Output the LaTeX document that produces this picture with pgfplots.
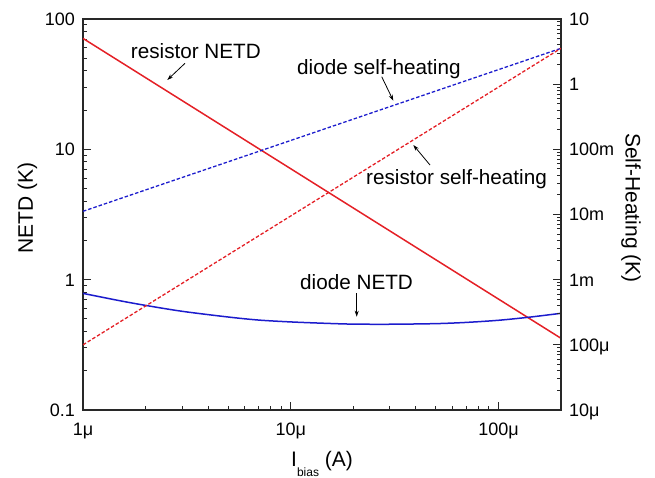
\documentclass[border=0pt]{standalone}
\usepackage{fontspec}
\setmainfont{Liberation Sans}
\usepackage{pgfplots}
\pgfplotsset{compat=1.18}
\usetikzlibrary{arrows.meta}
\definecolor{cred}{RGB}{228,32,38}
\definecolor{cblue}{RGB}{28,28,205}
\definecolor{axisgray}{RGB}{40,40,40}
\begin{document}
\begin{tikzpicture}
\useasboundingbox (0pt,0pt) rectangle (655pt,477pt);
\begin{axis}[
  scale only axis, width=478pt, height=391pt,
  at={(83pt,67pt)}, anchor=south west,
  xmode=log, ymode=log, xmin=1e-6, xmax=2e-4,
  axis line style={axisgray, line width=1.2pt},
  major tick length=8pt, minor tick length=4.5pt,
  tick style={axisgray, line width=1pt},
  tick label style={font=\fontsize{18}{18}\selectfont, inner sep=0pt},
  ymin=0.1, ymax=100,
  xtick pos=bottom, ytick pos=left,
  xtick={1e-6,1e-5,1e-4}, xticklabels={1μ,10μ,100μ},
  minor xtick={2e-6,3e-6,4e-6,5e-6,6e-6,7e-6,8e-6,9e-6,2e-5,3e-5,4e-5,5e-5,6e-5,7e-5,8e-5,9e-5,2e-4},
  ytick={0.1,1,10,100}, yticklabels={0.1,1,10,100},
  minor ytick={0.2,0.3,0.4,0.5,0.6,0.7,0.8,0.9,2,3,4,5,6,7,8,9,20,30,40,50,60,70,80,90},
  xticklabel style={anchor=base, yshift=-25pt},
  yticklabel style={anchor=base east, xshift=-8pt, yshift=-6.4pt},
]
\addplot[cred, line width=1.5pt] coordinates {(1e-6,71) (2e-4,0.355)};
\addplot[cblue, line width=1.5pt, smooth] coordinates {
(1e-6,0.785) (1.5e-6,0.69) (2e-6,0.635) (3e-6,0.572) (5e-6,0.517) (7e-6,0.49)
(1e-5,0.474) (1.5e-5,0.462) (2e-5,0.456) (3e-5,0.455) (5e-5,0.46) (7e-5,0.47)
(1e-4,0.488) (1.4e-4,0.515) (2e-4,0.552)};
\end{axis}
\begin{axis}[
  scale only axis, width=478pt, height=391pt,
  at={(83pt,67pt)}, anchor=south west,
  xmode=log, ymode=log, xmin=1e-6, xmax=2e-4,
  axis line style={axisgray, line width=1.2pt},
  major tick length=8pt, minor tick length=4.5pt,
  tick style={axisgray, line width=1pt},
  tick label style={font=\fontsize{18}{18}\selectfont, inner sep=0pt},
  ymin=1e-5, ymax=10,
  axis x line=none, axis y line*=right,
  ytick={1e-5,1e-4,1e-3,1e-2,1e-1,1,10},
  yticklabels={10μ,100μ,1m,10m,100m,1,10},
  minor ytick={2e-5,3e-5,4e-5,5e-5,6e-5,7e-5,8e-5,9e-5,2e-4,3e-4,4e-4,5e-4,6e-4,7e-4,8e-4,9e-4,2e-3,3e-3,4e-3,5e-3,6e-3,7e-3,8e-3,9e-3,0.02,0.03,0.04,0.05,0.06,0.07,0.08,0.09,0.2,0.3,0.4,0.5,0.6,0.7,0.8,0.9,2,3,4,5,6,7,8,9},
  yticklabel style={anchor=base west, xshift=8pt, yshift=-6.4pt},
]
\addplot[cblue, line width=1.3pt, dash pattern=on 3.5pt off 2pt] coordinates {(1e-6,0.0112) (2e-4,3.55)};
\addplot[cred, line width=1.3pt, dash pattern=on 3.5pt off 2pt] coordinates {(1e-6,1.0e-4) (2e-4,3.55)};
\end{axis}
\begin{scope}[font=\fontsize{20.7}{20.7}\selectfont]
\node[anchor=base west, inner sep=0pt] at (130.7pt,418.7pt) {resistor NETD};
\node[anchor=base west, inner sep=0pt] at (297pt,402pt) {diode self-heating};
\node[anchor=base west, inner sep=0pt] at (366pt,292pt) {resistor self-heating};
\node[anchor=base west, inner sep=0pt] at (300pt,187.7pt) {diode NETD};
\end{scope}
\begin{scope}[black, line width=0.8pt, -{Stealth[length=6pt,width=4pt]}]
\draw (185pt,413.7pt) -- (167.3pt,397pt);
\draw (381.7pt,400.3pt) -- (393.3pt,376.3pt);
\draw (430pt,312pt) -- (413.3pt,332pt);
\draw (356.7pt,183.7pt) -- (356.7pt,160.3pt);
\end{scope}
\node[rotate=90, font=\fontsize{21}{21}\selectfont] at (27.5pt,269pt) {NETD (K)};
\node[rotate=-90, font=\fontsize{21}{21}\selectfont] at (631pt,269pt) {Self-Heating (K)};
\node[anchor=base, font=\fontsize{21}{21}\selectfont, inner sep=0pt] at (322pt,11pt) {I\raisebox{-10pt}{\fontsize{12}{12}\selectfont bias}\ (A)};
\end{tikzpicture}
\end{document}
